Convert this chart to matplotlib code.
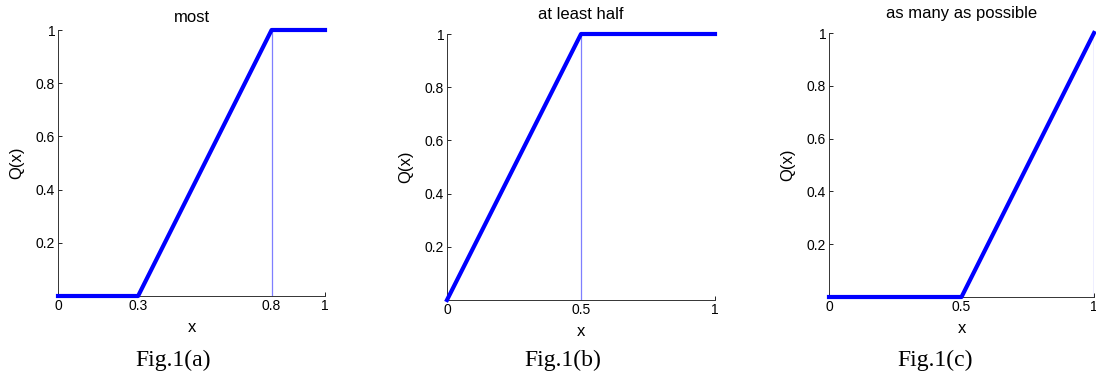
import matplotlib.pyplot as plt

# quantifier membership functions Q(x)
titles = ['most', 'at least half', 'as many as possible']
captions = ['Fig.1(a)', 'Fig.1(b)', 'Fig.1(c)']
x_most = [0, 0.3, 0.8, 1]
q_most = [0, 0, 1, 1]
x_half = [0, 0.5, 1]
q_half = [0, 1, 1]
x_many = [0, 0.5, 1]
q_many = [0, 0, 1]
xs = [x_most, x_half, x_many]
qs = [q_most, q_half, q_many]
xticks = [[0, 0.3, 0.8, 1], [0, 0.5, 1], [0, 0.5, 1]]
xticklabels = [['0', '0.3', '0.8', '1'], ['0', '0.5', '1'], ['0', '0.5', '1']]
marker_x = [0.8, 0.5, 1]
yticks = [0.2, 0.4, 0.6, 0.8, 1]
yticklabels = ['0.2', '0.4', '0.6', '0.8', '1']

plt.rcParams['font.family'] = ['Liberation Sans', 'DejaVu Sans']

fig = plt.figure(figsize=(10.96, 3.75), dpi=100)

# axes boxes in pixels: left, top, right, bottom
boxes = [(58, 30, 325, 296), (447, 34, 715, 300), (829, 33, 1094, 297)]
title_pads = [6, 11, 11]
caption_x = [173, 563, 935]

for i in range(3):
    l, t, r, b = boxes[i]
    ax = fig.add_axes([l / 1096, 1 - b / 375, (r - l) / 1096, (b - t) / 375])
    ax.plot(xs[i], qs[i], color='#0000ff', lw=3, clip_on=False, zorder=3)
    ax.plot([marker_x[i], marker_x[i]], [0, 1], color='#7f7fff', lw=0.9, zorder=2)
    ax.set_xlim(0, 1)
    ax.set_ylim(0, 1)
    ax.set_xticks(xticks[i])
    ax.set_xticklabels(xticklabels[i])
    ax.set_yticks(yticks)
    ax.set_yticklabels(yticklabels)
    ax.tick_params(direction='in', length=3, width=0.6, labelsize=10, pad=2)
    for s in ['top', 'right']:
        ax.spines[s].set_visible(False)
    for s in ['left', 'bottom']:
        ax.spines[s].set_linewidth(0.7)
        ax.spines[s].set_color('#333333')
    ax.set_title(titles[i], fontsize=12, pad=title_pads[i])
    ax.set_xlabel('x', fontsize=12, labelpad=5)
    ax.set_ylabel('Q(x)', fontsize=12, labelpad=8)
    fig.text(caption_x[i] / 1096, 1 - 360 / 375, captions[i], ha='center', va='center',
             fontsize=17, family='Liberation Serif')

fig.savefig('out.png', dpi=100)
